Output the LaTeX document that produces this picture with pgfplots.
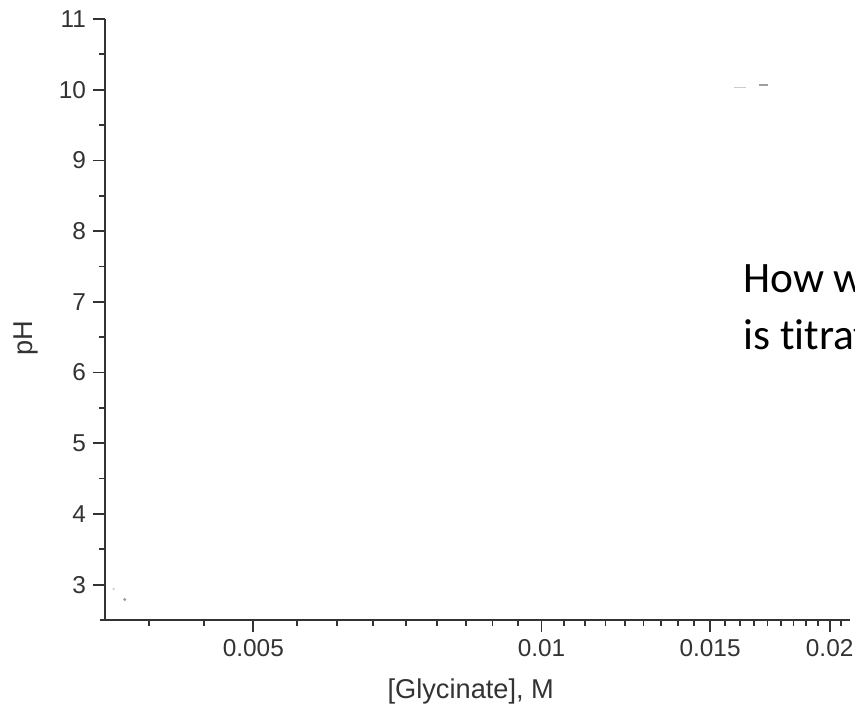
\documentclass[border=0pt]{standalone}
\usepackage{fontspec}
\setmainfont{Liberation Sans}
\newfontfamily\carlito[Ligatures=NoCommon]{Carlito}
\usepackage{pgfplots}
\pgfplotsset{compat=1.18}
\definecolor{axgray}{HTML}{333333}
\begin{document}
\begin{tikzpicture}
\begin{axis}[name=ax, scale only axis, width=372.5pt, height=300.5pt,
  xmode=log, xmin=0.0035, xmax=0.021, ymin=2.5, ymax=11,
  axis x line=bottom, axis y line=left,
  axis line style={-, draw=axgray, line width=1pt},
  x axis line style={shorten <=-2.5pt},
  tick align=outside, major tick length=6pt, minor tick length=3pt,
  tick style={axgray, line width=0.9pt},
  xtick={0.005,0.01,0.015,0.02}, xticklabels={0.005,0.01,0.015,0.02},
  minor xtick={0.0038889,0.0044444,0.0055556,0.0061111,0.0066667,0.0072222,0.0077778,0.0083333,0.0088889,0.0094444,0.0105556,0.0111111,0.0116667,0.0122222,0.0127778,0.0133333,0.0138889,0.0144444,0.0155556,0.0161111,0.0166667,0.0172222,0.0177778,0.0183333,0.0188889,0.0194444,0.0205556},
  ytick={3,4,5,6,7,8,9,10,11}, minor ytick={3.5,4.5,5.5,6.5,7.5,8.5,9.5,10.5},
  ticklabel style={font=\fontsize{12.2}{14}\selectfont, text=axgray},
  /pgf/number format/assume math mode=true,
  xlabel={[Glycinate], M}, ylabel={pH},
  every axis x label/.style={at={(axis description cs:0.491,-0.1314)}, anchor=base, font=\fontsize{13.6}{16}\selectfont, text=axgray},
  every axis y label/.style={at={(axis description cs:-0.0972,0.469)}, anchor=base, rotate=90, font=\fontsize{13.6}{16}\selectfont, text=axgray},
]
\addplot[only marks, mark=*, mark size=0.4pt, gray!35] coordinates {(0.003573,2.94)};
\addplot[only marks, mark=*, mark size=0.5pt, gray!80] coordinates {(0.00367,2.79)};
\addplot[gray!40, line width=0.8pt] coordinates {(0.01588,10.03) (0.01634,10.03)};
\addplot[gray!75, line width=1.2pt] coordinates {(0.01687,10.07) (0.01724,10.07)};
\end{axis}
\node[anchor=base west, inner sep=0pt, font=\carlito\fontsize{21.7}{26}\selectfont] at ([shift={(319pt,163.5pt)}]ax.south west) {How would};
\node[anchor=base west, inner sep=0pt, font=\carlito\fontsize{21.7}{26}\selectfont] at ([shift={(319pt,135pt)}]ax.south west) {is titrated};
\pgfresetboundingbox
\path[use as bounding box] ([shift={(-52.5pt,-46pt)}]ax.south west) rectangle ([shift={(375pt,310pt)}]ax.south west);
\end{tikzpicture}
\end{document}
